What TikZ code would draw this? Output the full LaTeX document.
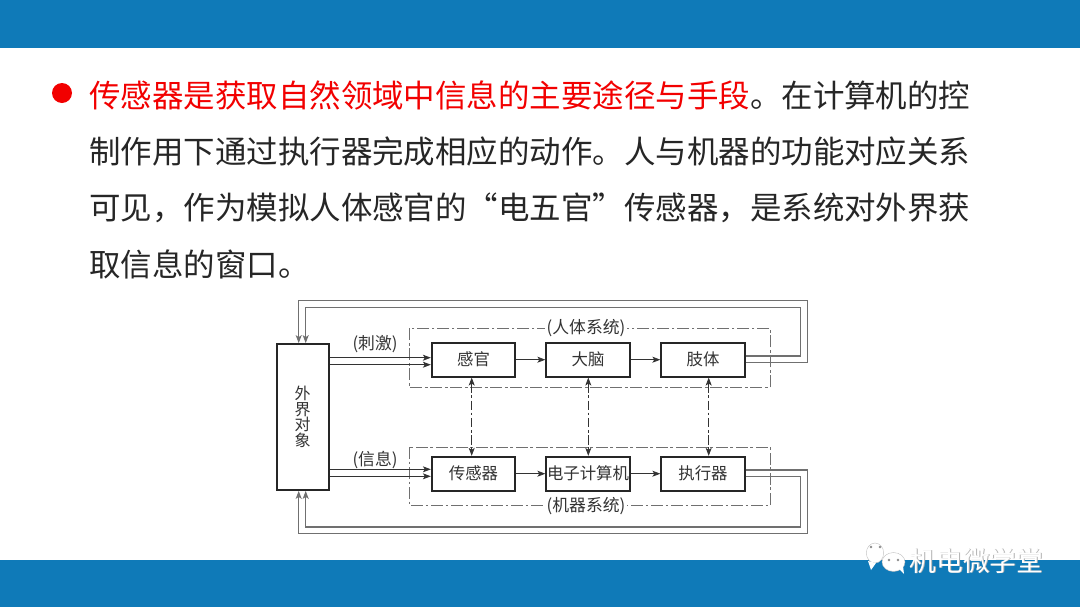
\documentclass[tikz,border=0pt]{standalone}
\usepackage{fontspec}
\usetikzlibrary{arrows.meta}
\setmainfont{Noto Sans CJK SC}
\definecolor{bandblue}{HTML}{0F7AB8}
\definecolor{inkgray}{HTML}{333333}
\definecolor{fbgray}{HTML}{707070}
\tikzset{
  unit/.style={rectangle, draw=black!85, line width=1.3pt, fill=white, minimum width=62.7pt, minimum height=25.5pt, inner sep=0pt, text=inkgray, font=\fontsize{12.3}{12.3}\selectfont},
  flow/.style={->, draw=inkgray, line width=0.6pt},
  feedback/.style={->, draw=fbgray, line width=0.9pt},
  link/.style={<->, draw=inkgray, line width=0.6pt, dash pattern=on 7pt off 2pt on 2pt off 2pt},
  sysbox/.style={draw=fbgray, line width=0.7pt, dash pattern=on 9pt off 2pt on 2pt off 2pt},
  caption/.style={fill=white, inner sep=1pt, text=inkgray, font=\fontsize{12.6}{12.6}\selectfont},
  textline/.style={anchor=west, inner sep=0pt, text=black!85, font=\fontsize{23.6}{24}\selectfont},
}
\begin{document}
\begin{tikzpicture}[x=0.75pt, y=-0.75pt, >={Stealth[length=6pt, width=4.5pt, inset=1.5pt]}]
      \useasboundingbox (0,0) rectangle (1080,607);

      % Bands
      \fill[bandblue] (0,0) rectangle (1080,48);
      \fill[bandblue] (0,560) rectangle (1080,607);

      % Text
      \fill[red!95!black] (62,93) circle (7.5pt);
      \node[textline] (line-1) at (89,95) {\textcolor{red!95!black}{传感器是获取自然领域中信息的主要途径与手段}。在计算机的控};
      \node[textline] (line-2) at (89,152) {制作用下通过执行器完成相应的动作。人与机器的功能对应关系};
      \node[textline] (line-3) at (89,208) {可见，作为模拟人体感官的“电五官”传感器，是系统对外界获};
      \node[textline] (line-4) at (89,264) {取信息的窗口。};

      % System frames
      \draw[sysbox] (409.7,328.3) rectangle (770,387.7);
      \draw[sysbox] (409.7,447) rectangle (770,505.7);
      \node[caption] (human) at (586,328.3) {(人体系统)};
      \node[caption] (machine) at (586,505.7) {(机器系统)};

      % Outer object
      \node[unit, minimum width=39pt, minimum height=109.5pt, align=center, font=\fontsize{12}{11.7}\selectfont] (object) at (302.7,417) {外\\界\\对\\象};

      % Upper row
      \foreach \nm/\txt/\px in {sense/感官/473.5, brain/大脑/588, limb/肢体/703}
      \node[unit] (\nm) at (\px,359.7) {\txt};

      % Lower row
      \foreach \nm/\txt/\px in {sensor/传感器/473.5, computer/电子计算机/588, actor/执行器/703}
      \node[unit] (\nm) at (\px,473.7) {\txt};

      % Connections inside the rows
      \foreach \a/\b in {sense/brain, brain/limb, sensor/computer, computer/actor}
      \draw[flow] (\a) -- (\b);

      % Links between the rows
      \foreach \a/\b/\d in {sense/sensor/-1.8, brain/computer/0.3, limb/actor/5.7}
      \draw[link] ([shift={(\d,0)}]\a.south) -- ([shift={(\d,0)}]\b.north);

      % Inputs
      \foreach \a/\d in {sense/-2, sense/5, sensor/-4.4, sensor/2.6} {
      \coordinate (tip) at ([shift={(0,\d)}]\a.west);
      \draw[flow] (object.east |- tip) -- (tip);
      }
      \node[text=inkgray, font=\fontsize{12.6}{12.6}\selectfont] (stimulus) at (375,344) {(刺激)};
      \node[text=inkgray, font=\fontsize{12.6}{12.6}\selectfont] (info) at (375,459.5) {(信息)};

      % Feedback
      \draw[feedback] ([shift={(0,-3.7)}]limb.east) -| (800.7,307.7) -| ([shift={(3,0)}]object.north);
      \draw[feedback] ([shift={(0,3)}]limb.east) -| (807.7,300.7) -| ([shift={(-4,0)}]object.north);
      \draw[feedback] ([shift={(0,-3.7)}]actor.east) -| (807.7,533.7) -| ([shift={(-4,0)}]object.south);
      \draw[feedback] ([shift={(0,3)}]actor.east) -| (800.7,527) -| ([shift={(3,0)}]object.south);

      % Watermark
      \fill[white, draw=black!25, line width=0.3pt] (875,553) ellipse (6.5pt and 7.5pt);
      \fill[white, draw=black!25, line width=0.3pt] (893.5,562) ellipse (8.6pt and 7.1pt);
      \fill[white] (868,561) -- (871,570) -- (876,563) -- cycle;
      \fill[white] (898,568) -- (904,574) -- (903,566) -- cycle;
      \foreach \px/\py in {871/547, 880/547, 889/560, 898/560}
      \fill[black!45] (\px,\py) circle (1pt);
      \node[text=black!30, font=\fontsize{20}{20}\selectfont] (mark-shadow) at (977.5,561.5) {机电微学堂};
      \node[text=white, font=\fontsize{20}{20}\selectfont] (mark) at (976.5,561) {机电微学堂};

\end{tikzpicture}
\end{document}
